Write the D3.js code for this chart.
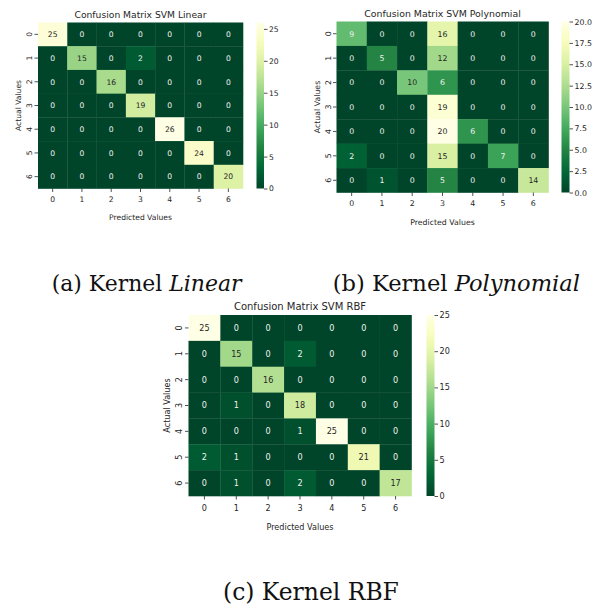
<!DOCTYPE html>
<html>
<head>
<meta charset="utf-8">
<script src="https://cdn.jsdelivr.net/npm/d3@7"></script>
<style>
  html, body { margin: 0; padding: 0; background: #fff; }
  svg { display: block; }
</style>
</head>
<body>
<svg id="chart" width="599" height="607"></svg>
<script>
// ---------------- DATA ----------------
const classes = ["0", "1", "2", "3", "4", "5", "6"];

const linearMatrix = [
  [25, 0, 0, 0, 0, 0, 0],
  [0, 15, 0, 2, 0, 0, 0],
  [0, 0, 16, 0, 0, 0, 0],
  [0, 0, 0, 19, 0, 0, 0],
  [0, 0, 0, 0, 26, 0, 0],
  [0, 0, 0, 0, 0, 24, 0],
  [0, 0, 0, 0, 0, 0, 20]
];
const polyMatrix = [
  [9, 0, 0, 16, 0, 0, 0],
  [0, 5, 0, 12, 0, 0, 0],
  [0, 0, 10, 6, 0, 0, 0],
  [0, 0, 0, 19, 0, 0, 0],
  [0, 0, 0, 20, 6, 0, 0],
  [2, 0, 0, 15, 0, 7, 0],
  [0, 1, 0, 5, 0, 0, 14]
];
const rbfMatrix = [
  [25, 0, 0, 0, 0, 0, 0],
  [0, 15, 0, 2, 0, 0, 0],
  [0, 0, 16, 0, 0, 0, 0],
  [0, 1, 0, 18, 0, 0, 0],
  [0, 0, 0, 1, 25, 0, 0],
  [2, 1, 0, 0, 0, 21, 0],
  [0, 1, 0, 2, 0, 0, 17]
];

const linearTicks = [0, 5, 10, 15, 20, 25];
const polyTicks = [0, 2.5, 5, 7.5, 10, 12.5, 15, 17.5, 20];
const rbfTicks = [0, 5, 10, 15, 20, 25];

const titles = ["Confusion Matrix SVM Linear", "Confusion Matrix SVM Polynomial", "Confusion Matrix SVM RBF"];
const captions = [
  [{t: "(a) Kernel ", i: false}, {t: "Linear", i: true}],
  [{t: "(b) Kernel ", i: false}, {t: "Polynomial", i: true}],
  [{t: "(c) Kernel RBF", i: false}]
];

// ---------------- COLORMAP (matplotlib YlGn, reversed) ----------------
const ylgn = ["#ffffe5", "#f7fcb9", "#d9f0a3", "#addd8e", "#78c679", "#41ab5d", "#238443", "#006837", "#004529"];
const ylgnInterp = d3.piecewise(d3.interpolateRgb, ylgn);
const ylgnR = t => ylgnInterp(1 - t);

function relLum(c) {
  const rgb = d3.rgb(c);
  const f = v => { v /= 255; return v <= 0.03928 ? v / 12.92 : Math.pow((v + 0.055) / 1.055, 2.4); };
  return 0.2126 * f(rgb.r) + 0.7152 * f(rgb.g) + 0.0722 * f(rgb.b);
}

const svg = d3.select("#chart");
const defs = svg.append("defs");
const textColor = "#262626";

// layout for each panel
const panels = [
  { data: linearMatrix, ticks: linearTicks, vmax: 26, fmt: d3.format("d"), title: titles[0],
    x0: 38, x1: 243, y0: 22.5, y1: 188.5, cb0: 256.5, cb1: 264,
    fs: 7.6, tfs: 9.2, titleY: 18, xtY: 201.5, xlY: 220, ylX: 20.5, ytX: 31.5 },
  { data: polyMatrix, ticks: polyTicks, vmax: 20, fmt: d3.format(".1f"), title: titles[1],
    x0: 336.5, x1: 548.5, y0: 21.5, y1: 192.5, cb0: 561.5, cb1: 569.5,
    fs: 7.8, tfs: 9.4, titleY: 16.5, xtY: 206, xlY: 224.5, ylX: 319.5, ytX: 331 },
  { data: rbfMatrix, ticks: rbfTicks, vmax: 25, fmt: d3.format("d"), title: titles[2],
    x0: 188.5, x1: 411.5, y0: 315, y1: 496, cb0: 426.5, cb1: 434.5,
    fs: 8.1, tfs: 10, titleY: 310, xtY: 510.5, xlY: 530, ylX: 169.5, ytX: 182 }
];

const font = "'DejaVu Sans', sans-serif";

panels.forEach((p, pi) => {
  const g = svg.append("g");
  const x = d3.scaleBand().domain(classes).range([p.x0, p.x1]).padding(0);
  const y = d3.scaleBand().domain(classes).range([p.y0, p.y1]).padding(0);
  const color = d3.scaleSequential(ylgnR).domain([0, p.vmax]);

  const cells = [];
  p.data.forEach((row, r) => row.forEach((v, c) => cells.push({ r: classes[r], c: classes[c], v })));

  g.selectAll("rect.cell").data(cells).join("rect")
    .attr("x", d => x(d.c)).attr("y", d => y(d.r))
    .attr("width", x.bandwidth() + 0.3).attr("height", y.bandwidth() + 0.3)
    .attr("fill", d => color(d.v));

  g.selectAll("text.ann").data(cells).join("text")
    .attr("x", d => x(d.c) + x.bandwidth() / 2)
    .attr("y", d => y(d.r) + y.bandwidth() / 2)
    .attr("dy", "0.36em")
    .attr("text-anchor", "middle")
    .attr("font-family", font).attr("font-size", p.fs)
    .attr("fill", d => relLum(color(d.v)) > 0.408 ? textColor : "#f2f2f2")
    .text(d => d.v);

  // x axis
  const xAxis = d3.axisBottom(x).tickSize(3.5).tickPadding(2);
  const gx = g.append("g").attr("transform", `translate(0,${p.y1})`).call(xAxis);
  gx.select(".domain").remove();
  gx.selectAll(".tick line").attr("stroke", textColor).attr("stroke-width", 0.8);
  gx.selectAll(".tick text").attr("font-family", font).attr("font-size", p.fs).attr("fill", textColor)
    .attr("y", null).attr("dy", null)
    .attr("transform", `translate(0,${p.xtY - p.y1})`);

  // y axis (rotated labels)
  const yAxis = d3.axisLeft(y).tickSize(3.5).tickPadding(2);
  const gy = g.append("g").attr("transform", `translate(${p.x0},0)`).call(yAxis);
  gy.select(".domain").remove();
  gy.selectAll(".tick line").attr("stroke", textColor).attr("stroke-width", 0.8);
  gy.selectAll(".tick text").attr("font-family", font).attr("font-size", p.fs).attr("fill", textColor)
    .attr("x", null).attr("dy", null)
    .attr("text-anchor", "middle")
    .attr("transform", `translate(${p.ytX - p.x0},0) rotate(-90)`);

  // axis labels
  g.append("text").attr("x", (p.x0 + p.x1) / 2).attr("y", p.xlY)
    .attr("text-anchor", "middle").attr("font-family", font).attr("font-size", p.fs).attr("fill", textColor)
    .text("Predicted Values");
  g.append("text")
    .attr("transform", `translate(${p.ylX},${(p.y0 + p.y1) / 2}) rotate(-90)`)
    .attr("text-anchor", "middle").attr("font-family", font).attr("font-size", p.fs).attr("fill", textColor)
    .text("Actual Values");

  // title
  g.append("text").attr("x", (p.x0 + p.x1) / 2).attr("y", p.titleY)
    .attr("text-anchor", "middle").attr("font-family", font).attr("font-size", p.tfs).attr("fill", textColor)
    .text(p.title);

  // colorbar
  const gid = "cbgrad" + pi;
  const grad = defs.append("linearGradient").attr("id", gid)
    .attr("x1", 0).attr("y1", 1).attr("x2", 0).attr("y2", 0);
  d3.range(0, 1.0001, 0.05).forEach(t => {
    grad.append("stop").attr("offset", t).attr("stop-color", color(t * p.vmax));
  });
  g.append("rect").attr("x", p.cb0).attr("y", p.y0)
    .attr("width", p.cb1 - p.cb0).attr("height", p.y1 - p.y0)
    .attr("fill", `url(#${gid})`);
  const cbScale = d3.scaleLinear().domain([0, p.vmax]).range([p.y1, p.y0]);
  const cbAxis = d3.axisRight(cbScale).tickValues(p.ticks).tickFormat(p.fmt).tickSize(3.5).tickPadding(1.5);
  const gc = g.append("g").attr("transform", `translate(${p.cb1},0)`).call(cbAxis);
  gc.select(".domain").remove();
  gc.selectAll(".tick line").attr("stroke", textColor).attr("stroke-width", 0.8);
  gc.selectAll(".tick text").attr("font-family", font).attr("font-size", p.fs).attr("fill", textColor);
});

// ---------------- CAPTIONS ----------------
const capLayout = [
  { x0: 51.7, x1: 241.7, y: 291 },
  { x0: 332.7, x1: 580, y: 291 },
  { x0: 223, x1: 399, y: 600 }
];
captions.forEach((parts, i) => {
  const L = capLayout[i];
  const t = svg.append("text").attr("x", L.x0).attr("y", L.y)
    .attr("font-family", "'DejaVu Serif', serif").attr("font-size", 24).attr("fill", "#111");
  parts.forEach(pt => {
    t.append("tspan").attr("font-style", pt.i ? "italic" : "normal").text(pt.t);
  });
  const w = t.node().getComputedTextLength();
  t.attr("font-size", 24 * (L.x1 - L.x0) / w);
});
</script>
</body>
</html>
